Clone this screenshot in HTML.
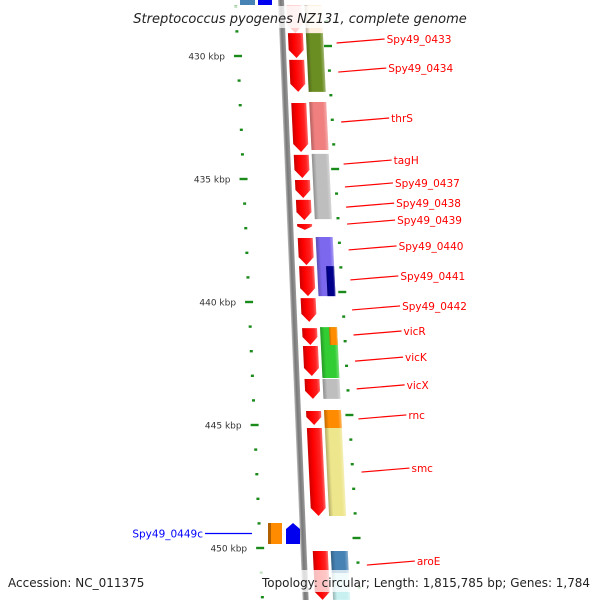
<!DOCTYPE html>
<html><head><meta charset="utf-8"><style>
html,body{margin:0;padding:0;background:#fff;}
svg{display:block;font-family:"DejaVu Sans","Liberation Sans",sans-serif;}
</style></head><body>
<svg id="map" width="600" height="600" viewBox="0 0 600 600" xmlns="http://www.w3.org/2000/svg">
<defs>
<linearGradient id="gRed" x1="0" x2="1"><stop offset="0" stop-color="#c00"/><stop offset="0.35" stop-color="#f00"/><stop offset="0.8" stop-color="#f22"/><stop offset="1" stop-color="#f66"/></linearGradient>
<linearGradient id="gBack" x1="0" x2="1"><stop offset="0" stop-color="#bbb"/><stop offset="0.4" stop-color="#777"/><stop offset="1" stop-color="#999"/></linearGradient>
<linearGradient id="gShade" x1="0" x2="1"><stop offset="0" stop-color="#000" stop-opacity="0.25"/><stop offset="0.25" stop-color="#000" stop-opacity="0"/><stop offset="0.8" stop-color="#fff" stop-opacity="0"/><stop offset="1" stop-color="#fff" stop-opacity="0.35"/></linearGradient>
</defs>
<g id="ticks"></g>
<g id="backbone"></g>
<g id="genes"></g>
<g id="labels"></g>
</svg>
<script>
// ---- data ----
const majorKbp = [430, 435, 440, 445, 450];
const tickLabels = ["430 kbp","435 kbp","440 kbp","445 kbp","450 kbp"];
const minorKbp = [426,427,428,429,431,432,433,434,436,437,438,439,441,442,443,444,446,447,448,449,451,452];
// strand genes (red lane): start/end in kbp
const strandStart = [427.93, 429.07, 430.16, 431.91, 434.02, 435.04, 435.85, 436.83, 437.40, 438.54, 439.84, 441.06, 441.79, 443.13, 444.43, 445.12, 450.12];
const strandEnd   = [429.07, 430.08, 431.46, 433.90, 434.96, 435.77, 436.67, 437.07, 438.50, 439.76, 440.81, 441.75, 443.01, 443.94, 445.00, 448.70, 452.11];
const strandFaint = [1,0,0,0,0,0,0,0,0,0,0,0,0,0,0,0,0];
// category lane
const catStart = [427.93, 429.07, 431.87, 433.98, 437.36, 438.54, 441.02, 441.02, 443.13, 444.39, 445.12, 450.12, 451.02];
const catEnd   = [429.07, 431.46, 433.82, 436.63, 439.76, 439.76, 443.09, 441.75, 443.94, 445.12, 448.70, 451.02, 452.11];
const catColor = ["#fde5c8","#6b8e23","#f08080","#bebebe","#7b68ee","#00008b","#32cd32","#ff8c00","#bebebe","#ff8c00","#eee68c","#4682b4","#c8f0f0"];
const catSub   = [0,0,0,0,0,1,0,1,0,0,0,0,0];
const labelNames = ["Spy49_0433","Spy49_0434","thrS","tagH","Spy49_0437","Spy49_0438","Spy49_0439","Spy49_0440","Spy49_0441","Spy49_0442","vicR","vicK","vicX","rnc","smc","aroE"];
const labelKbp   = [429.31, 430.49, 432.52, 434.23, 435.16, 435.98, 436.67, 437.72, 438.94, 440.16, 441.18, 442.24, 443.37, 444.59, 446.75, 450.53];
// ---- scales ----
const Y0 = 56, PX = 24.6; // y of 430 kbp, px per kbp
function y(k){ return Y0 + (k-430)*PX; }
const NS="http://www.w3.org/2000/svg";
function mk(tag, attrs, parent){ const e=document.createElementNS(NS,tag); for(const a in attrs) e.setAttribute(a, attrs[a]); parent.appendChild(e); return e; }
const ticks=document.getElementById('ticks');
function lx(yy){ return 238 + (yy-56)*0.045; }
function rx(yy){ return 328 + (yy-46)*0.058; }
majorKbp.forEach((k,i)=>{
  const yy=y(k);
  const t=mk('rect',{x:lx(yy)-4,y:yy-1.2,width:8,height:2.4,fill:'#1a8a1a'},ticks);
  
  
  const tx=mk('text',{x:lx(yy)-13,y:yy+3.5,'font-size':9,fill:'#333','text-anchor':'end'},ticks);
  tx.textContent=tickLabels[i];
  
  
  const yr=y(k)-10;
  const r=mk('rect',{x:rx(yr)-4,y:yr-1.2,width:8,height:2.4,fill:'#1a8a1a'},ticks);
  
  
});
minorKbp.forEach(k=>{
  const yy=y(k);
  const t=mk('rect',{x:lx(yy)-1.5,y:yy-1.2,width:3,height:2.4,fill:'#1a8a1a'},ticks);
  
  
  const yr=yy-10;
  const r=mk('rect',{x:rx(yr)-1.5,y:yr-1.2,width:3,height:2.4,fill:'#1a8a1a'},ticks);
  
  
});
// backbone
const bb=mk('g',{transform:'translate(278,0) skewX(2.35)'},document.getElementById('backbone'));
const bbr=mk('rect',{x:0,y:0,width:6,height:600,fill:'url(#gBack)'},bb);


// genes
const gg=mk('g',{transform:'translate(286.3,0) skewX(2.75)'},document.getElementById('genes'));
strandStart.forEach((s,i)=>{
  const a=y(s), b=y(strandEnd[i]);
  const tip=Math.min(8,(b-a)*0.6);
  const p=mk('polygon',{points:`0,${a} 15,${a} 15,${b-tip} 7.5,${b} 0,${b-tip}`,fill:'url(#gRed)',opacity:strandFaint[i]?0.2:1},gg);
  
  
});
catStart.forEach((s,i)=>{
  const a=y(s), b=y(catEnd[i]);
  let x=18, w=17;
  if(catSub[i]){ x=27; w=8; }
  const r=mk('rect',{x:x,y:a,width:w,height:b-a,fill:catColor[i],opacity:i===0?0.6:1},gg);
  
  
  mk('rect',{x:x,y:a,width:w,height:b-a,fill:'url(#gShade)'},gg);
});
// labels
const lg=document.getElementById('labels');
labelNames.forEach((n,i)=>{
  const ty=y(labelKbp[i]);
  const x1=rx(ty)+9;
  const x2=x1+48;
  const ln=mk('line',{x1:x1,y1:ty+4,x2:x2,y2:ty,stroke:'#f00','stroke-width':1.2},lg);
  
  
  const t=mk('text',{x:x2+2,y:ty+4,'font-size':10.5,fill:'#f00'},lg);
  t.textContent=n;
  
  
});
</script>
<svg style="position:absolute;left:0;top:0" width="600" height="600">
<g>
<rect x="240" y="0" width="15" height="5" fill="#4682b4"/>
<rect x="258" y="0" width="14" height="5" fill="#0000ee"/>
<rect x="268" y="523" width="14" height="21" fill="#ff8c00"/>
<rect x="268" y="523" width="3" height="21" fill="#b06000"/>
<polygon points="286,529 293,523 300,529 300,544 286,544" fill="#0000ee"/>
</g>
<line x1="205" y1="533.5" x2="252" y2="533.5" stroke="#00f" stroke-width="1.2"/>
<text x="203" y="537.5" font-size="10.5" fill="#00f" text-anchor="end" font-family="DejaVu Sans,sans-serif">Spy49_0449c</text>
<rect x="124" y="6" width="352" height="22" fill="#fff" opacity="0.75"/>
<text x="300" y="23" font-size="13" font-style="italic" text-anchor="middle" fill="#222" font-family="DejaVu Sans,sans-serif">Streptococcus pyogenes NZ131, complete genome</text>
<rect x="258" y="570" width="338" height="22" fill="#fff" opacity="0.75"/>
<text x="8" y="587" font-size="12" fill="#222" font-family="DejaVu Sans,sans-serif">Accession: NC_011375</text>
<text x="262" y="587" font-size="12" fill="#222" font-family="DejaVu Sans,sans-serif" textLength="328" lengthAdjust="spacingAndGlyphs">Topology: circular; Length: 1,815,785 bp; Genes: 1,784</text>
</svg>
</body></html>
